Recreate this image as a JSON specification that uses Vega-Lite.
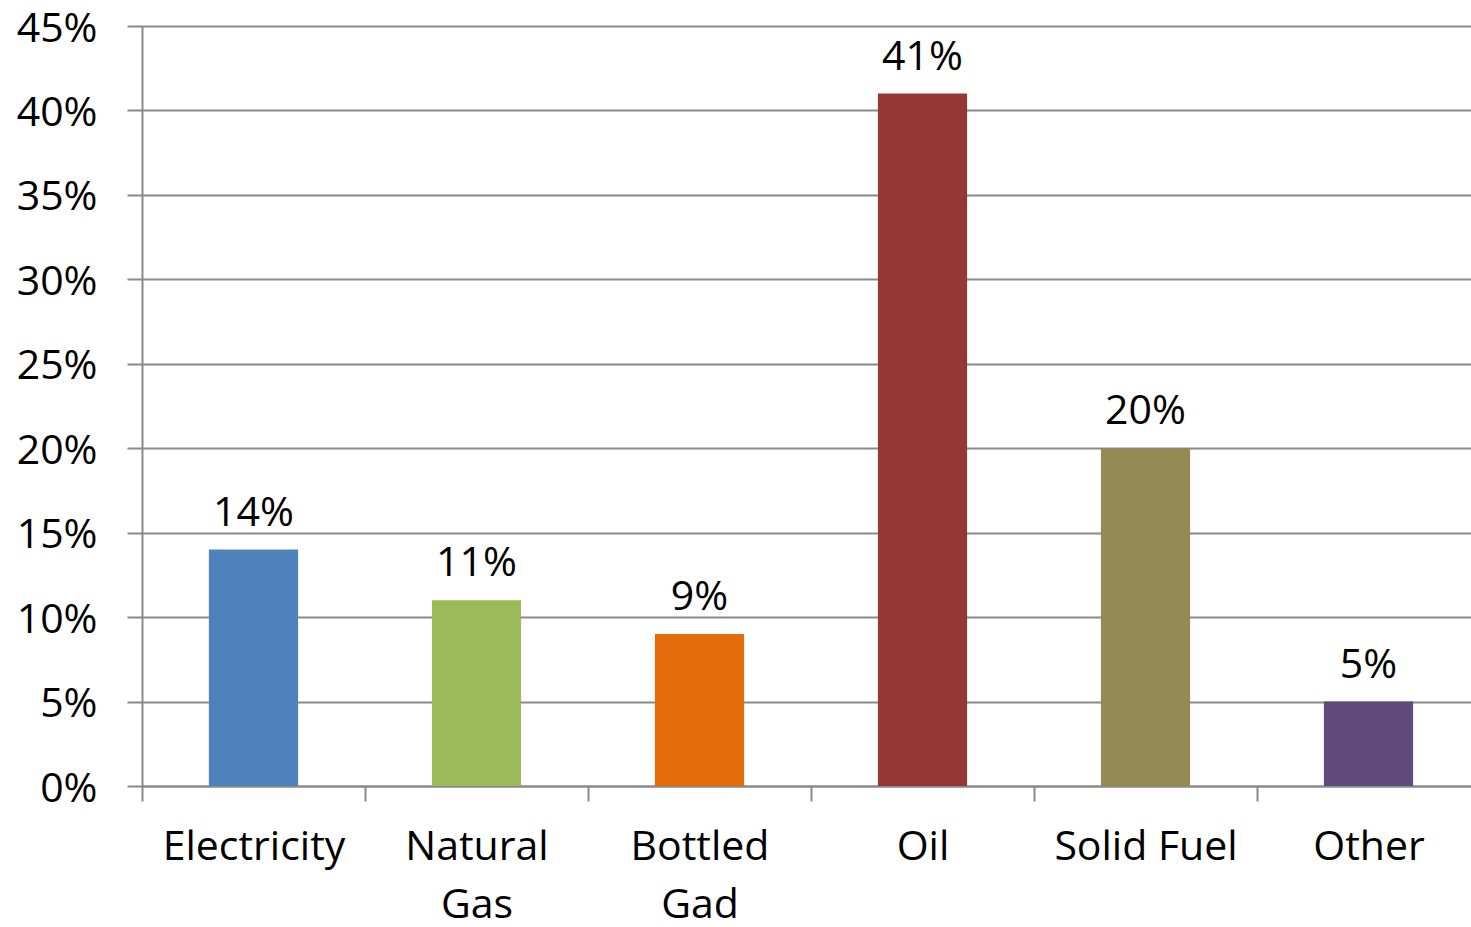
{
  "$schema": "https://vega.github.io/schema/vega-lite/v6.json",
  "autosize": {"type": "none"},
  "width": 1338,
  "height": 760,
  "padding": {"left": 142, "top": 26, "right": 0, "bottom": 141},
  "background": "white",
  "config": {
    "view": {"stroke": null},
    "font": "Open Sans"
  },
  "data": {
    "values": [
      {"source": "Electricity", "share": 0.14, "label": "14%"},
      {"source": "Natural Gas", "share": 0.11, "label": "11%"},
      {"source": "Bottled Gad", "share": 0.09, "label": "9%"},
      {"source": "Oil", "share": 0.41, "label": "41%"},
      {"source": "Solid Fuel", "share": 0.20, "label": "20%"},
      {"source": "Other", "share": 0.05, "label": "5%"}
    ]
  },
  "encoding": {
    "x": {
      "field": "source",
      "type": "nominal",
      "sort": null,
      "scale": {"paddingInner": 0, "paddingOuter": 0},
      "axis": {
        "title": null,
        "labelAngle": 0,
        "tickBand": "extent",
        "domainColor": "#898989",
        "domainWidth": 2,
        "tickColor": "#898989",
        "tickWidth": 2,
        "tickSize": 15,
        "labelFontSize": 41,
        "labelColor": "black",
        "labelPadding": 26,
        "labelLineHeight": 58,
        "labelLimit": 500,
        "labelOverlap": false,
        "labelFont": "Open Sans",
        "labelExpr": "datum.value == 'Natural Gas' ? ['Natural', 'Gas'] : datum.value == 'Bottled Gad' ? ['Bottled', 'Gad'] : datum.value"
      }
    },
    "y": {
      "field": "share",
      "type": "quantitative",
      "scale": {"domain": [0, 0.45], "nice": false},
      "axis": {
        "title": null,
        "format": ".0%",
        "values": [0, 0.05, 0.1, 0.15, 0.2, 0.25, 0.3, 0.35, 0.4, 0.45],
        "grid": true,
        "gridColor": "#898989",
        "gridWidth": 2,
        "domainColor": "#898989",
        "domainWidth": 2,
        "tickColor": "#898989",
        "tickWidth": 2,
        "tickSize": 15,
        "labelFontSize": 41,
        "labelColor": "black",
        "labelPadding": 30,
        "labelBaseline": "alphabetic",
        "labelOffset": 15,
        "labelFont": "Open Sans"
      }
    }
  },
  "layer": [
    {
      "mark": {"type": "bar", "width": {"band": 0.4}},
      "encoding": {
        "color": {
          "field": "source",
          "type": "nominal",
          "legend": null,
          "scale": {
            "domain": ["Electricity", "Natural Gas", "Bottled Gad", "Oil", "Solid Fuel", "Other"],
            "range": ["#4F81BD", "#9BBB59", "#E46C0A", "#953735", "#948A54", "#604A7B"]
          }
        }
      }
    },
    {
      "mark": {"type": "text", "baseline": "alphabetic", "dy": -24, "fontSize": 41, "color": "black", "font": "Open Sans"},
      "encoding": {"text": {"field": "label"}}
    }
  ]
}
